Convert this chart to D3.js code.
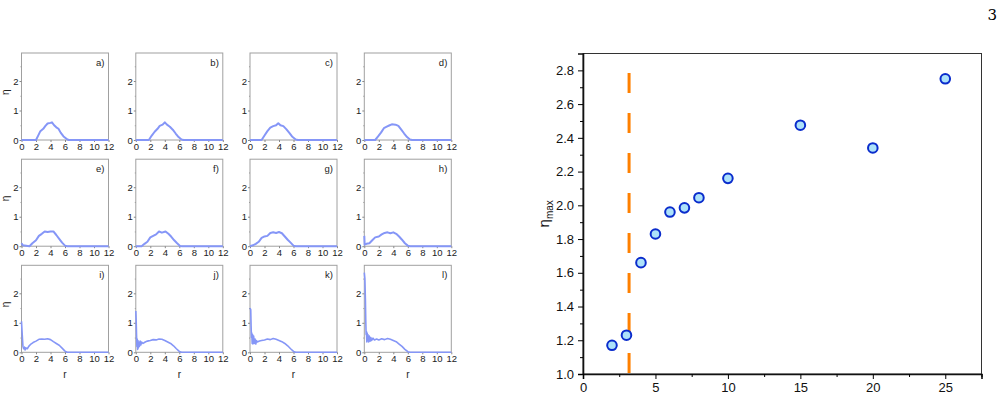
<!DOCTYPE html>
<html>
<head>
<meta charset="utf-8">
<script src="https://cdn.jsdelivr.net/npm/d3@7"></script>
<style>
  body { margin: 0; background: #fff; }
  svg { display: block; }
  text { font-family: "Liberation Sans", Arial, sans-serif; }
  text.pagenum { font-family: "DejaVu Serif", "Liberation Serif", serif; }
</style>
</head>
<body>
<svg id="chart" width="1005" height="402"></svg>
<script>
// ---- small panels: eta(r) profiles ----
var panelLabels = ["a)", "b)", "c)", "d)", "e)", "f)", "g)", "h)", "i)", "j)", "k)", "l)"];

var curveA = [[0,0],[2,0],[2.3,0.15],[2.6,0.3],[3,0.38],[3.3,0.48],[3.6,0.56],[4,0.58],[4.2,0.6],[4.5,0.5],[4.8,0.43],[5.1,0.38],[5.4,0.25],[5.8,0.12],[6.2,0.04],[6.5,0],[12,0]];
var curveB = [[0,0],[1.8,0],[2.2,0.15],[2.6,0.28],[3,0.38],[3.3,0.48],[3.7,0.52],[4,0.6],[4.3,0.52],[4.7,0.45],[5.1,0.35],[5.5,0.22],[5.9,0.1],[6.3,0.02],[6.6,0],[12,0]];
var curveC = [[0,0],[1.6,0],[2,0.15],[2.4,0.3],[2.8,0.42],[3.2,0.47],[3.6,0.5],[3.9,0.57],[4.2,0.5],[4.6,0.47],[5,0.37],[5.4,0.25],[5.8,0.12],[6.3,0.02],[6.6,0],[12,0]];
var curveD = [[0,0],[1.5,0],[1.9,0.12],[2.3,0.25],[2.7,0.4],[3.1,0.45],[3.5,0.5],[3.8,0.53],[4.3,0.52],[4.7,0.48],[5.1,0.35],[5.5,0.22],[5.9,0.1],[6.3,0.02],[6.6,0],[12,0]];
var curveE = [[0,0.1],[0.2,0.03],[1.1,0],[1.5,0.1],[2,0.2],[2.4,0.35],[2.8,0.42],[3.2,0.5],[3.6,0.48],[4,0.5],[4.4,0.5],[4.8,0.38],[5.2,0.25],[5.6,0.12],[6,0.02],[6.3,0],[12,0]];
var curveF = [[0,0],[0.8,0],[1.2,0.08],[1.6,0.15],[2,0.3],[2.4,0.35],[2.8,0.4],[3.2,0.5],[3.6,0.46],[4.1,0.5],[4.5,0.42],[4.9,0.32],[5.3,0.2],[5.7,0.1],[6.1,0.01],[6.4,0],[12,0]];
var curveG = [[0,0],[0.4,0.03],[0.8,0.08],[1.2,0.15],[1.6,0.28],[2,0.33],[2.4,0.35],[2.8,0.45],[3.2,0.47],[3.6,0.45],[4,0.48],[4.4,0.44],[4.8,0.33],[5.2,0.22],[5.6,0.12],[6,0.02],[6.3,0],[12,0]];
var curveH = [[0,0.35],[0.05,0.05],[0.3,0.08],[0.7,0.1],[1.1,0.2],[1.5,0.3],[2,0.33],[2.4,0.4],[2.8,0.45],[3.2,0.47],[3.6,0.44],[4,0.47],[4.4,0.42],[4.8,0.33],[5.2,0.22],[5.6,0.1],[6,0.02],[6.3,0],[12,0]];
var curveI = [[0,1.05],[0.1,0.6],[0.2,0.2],[0.3,0.12],[0.4,0.18],[0.5,0.08],[0.6,0.15],[0.8,0.12],[1,0.2],[1.3,0.28],[1.6,0.33],[2,0.38],[2.4,0.44],[2.8,0.45],[3.2,0.44],[3.6,0.46],[4,0.43],[4.4,0.36],[4.8,0.3],[5.2,0.24],[5.6,0.14],[6,0.04],[6.3,0],[12,0]];
var curveJ = [[0,1.4],[0.05,1.1],[0.1,0.6],[0.15,0.2],[0.2,0.45],[0.25,0.1],[0.3,0.4],[0.35,0.15],[0.4,0.35],[0.5,0.2],[0.6,0.38],[0.7,0.25],[0.8,0.35],[1,0.3],[1.3,0.35],[1.6,0.38],[2,0.4],[2.4,0.43],[2.8,0.42],[3.2,0.45],[3.6,0.44],[4,0.4],[4.4,0.35],[4.8,0.3],[5.2,0.22],[5.6,0.12],[6,0.03],[6.3,0],[12,0]];
var curveK = [[0,1.5],[0.1,1.45],[0.15,0.9],[0.2,0.5],[0.25,0.65],[0.3,0.3],[0.35,0.6],[0.4,0.28],[0.5,0.55],[0.6,0.3],[0.7,0.45],[0.8,0.28],[0.9,0.4],[1,0.35],[1.3,0.38],[1.6,0.4],[2,0.42],[2.4,0.45],[2.8,0.43],[3.2,0.47],[3.6,0.44],[4,0.4],[4.4,0.36],[4.8,0.3],[5.2,0.22],[5.6,0.12],[6,0.03],[6.3,0],[12,0]];
var curveL = [[0,2.7],[0.08,2.5],[0.15,1.8],[0.2,1.1],[0.25,0.6],[0.3,0.7],[0.35,0.35],[0.4,0.65],[0.45,0.4],[0.5,0.6],[0.6,0.35],[0.7,0.55],[0.8,0.38],[0.9,0.5],[1,0.4],[1.2,0.48],[1.4,0.42],[1.7,0.45],[2,0.42],[2.4,0.46],[2.8,0.43],[3.2,0.47],[3.6,0.44],[4,0.4],[4.4,0.36],[4.8,0.28],[5.2,0.2],[5.6,0.1],[6,0.02],[6.3,0],[12,0]];

var curves = [curveA, curveB, curveC, curveD, curveE, curveF, curveG, curveH, curveI, curveJ, curveK, curveL];
var smallXTicks = [0, 2, 4, 6, 8, 10, 12];
var smallYTicks = [0, 1, 2];

// ---- right panel: eta_max vs N ----
var nValues   = [2, 3, 4, 5, 6, 7, 8, 10, 15, 20, 25];
var etaMax    = [1.17, 1.23, 1.66, 1.83, 1.96, 1.985, 2.045, 2.16, 2.475, 2.34, 2.75];
var bigXTicks = [0, 5, 10, 15, 20, 25];
var bigYTicks = [1.0, 1.2, 1.4, 1.6, 1.8, 2.0, 2.2, 2.4, 2.6, 2.8];
var criticalN = 3.18;
var dashRange = [1.0, 2.785];

var svg = d3.select("#chart");

// page number
svg.append("text")
  .attr("class", "pagenum")
  .attr("x", 997).attr("y", 20)
  .attr("text-anchor", "end")
  .style("font-size", "15px")
  .text("3");

// ---------- grid of small panels ----------
var PW = 87, PH = 87;
var colX = [21.5, 135.8, 250, 364.3];
var rowY = [53, 159.2, 265.3];
var lineColor = "#8596f7";
var frameColor = "#a0a0a0";

var sx = d3.scaleLinear().domain([0, 12]).range([0, PW]);
var sy = d3.scaleLinear().domain([0, 2.95]).range([PH, 0]);
var line = d3.line().x(function(d){ return sx(d[0]); }).y(function(d){ return sy(d[1]); });

curves.forEach(function(c, i){
  var col = i % 4, row = Math.floor(i / 4);
  var g = svg.append("g").attr("transform", "translate(" + colX[col] + "," + rowY[row] + ")");

  g.append("rect")
    .attr("width", PW).attr("height", PH)
    .attr("fill", "none").attr("stroke", frameColor).attr("stroke-width", 1);

  // y ticks
  var ya = g.append("g").call(d3.axisLeft(sy).tickValues(smallYTicks).tickSize(2).tickPadding(1).tickFormat(d3.format("d")));
  ya.select(".domain").remove();
  ya.selectAll("line").attr("stroke", "#888");
  ya.selectAll("text").style("font-size", "9.5px").attr("fill", "#222");
  g.append("g").call(d3.axisLeft(sy).tickValues([0.5, 1.5, 2.5]).tickSize(1).tickFormat(""))
    .call(function(a){ a.select(".domain").remove(); a.selectAll("line").attr("stroke", "#999"); });

  // x ticks
  var xa = g.append("g").attr("transform", "translate(0," + PH + ")")
    .call(d3.axisBottom(sx).tickValues(smallXTicks).tickSize(2).tickPadding(1));
  xa.select(".domain").remove();
  xa.selectAll("line").attr("stroke", "#888");
  xa.selectAll("text").style("font-size", "9.5px").attr("fill", "#222");

  g.append("path")
    .datum(c)
    .attr("d", line)
    .attr("fill", "none")
    .attr("stroke", lineColor)
    .attr("stroke-width", i >= 8 ? 1.6 : 2)
    .attr("stroke-linejoin", "round");

  g.append("text")
    .attr("x", PW - 4).attr("y", 13)
    .attr("text-anchor", "end")
    .style("font-size", "9.5px")
    .attr("fill", "#222")
    .text(panelLabels[i]);

  if (col === 0) {
    g.append("text")
      .attr("transform", "translate(-13," + (PH * 0.45) + ") rotate(-90)")
      .attr("text-anchor", "middle")
      .style("font-size", "10px")
      .attr("fill", "#222")
      .text("η");
  }
  if (row === 2) {
    g.append("text")
      .attr("x", PW / 2).attr("y", PH + 26)
      .attr("text-anchor", "middle")
      .style("font-size", "10px")
      .attr("fill", "#222")
      .text("r");
  }
});

// ---------- right scatter chart ----------
var L = 583, T = 53.5, R = 981.5, B = 374;
var bx = d3.scaleLinear().domain([0, 27.5]).range([L, R]);
var by = d3.scaleLinear().domain([1.0, 2.9]).range([B, T]);

// frame
svg.append("rect")
  .attr("x", L).attr("y", T).attr("width", R - L).attr("height", B - T)
  .attr("fill", "none").attr("stroke", "#333").attr("stroke-width", 1);

var yAxis = svg.append("g").attr("transform", "translate(" + L + ",0)")
  .call(d3.axisLeft(by).tickValues(bigYTicks).tickSize(5).tickPadding(4).tickFormat(d3.format(".1f")));
yAxis.select(".domain").attr("stroke-width", 1.6).attr("stroke", "#111");
yAxis.selectAll("text").style("font-size", "13px").attr("fill", "#111");
var yMinor = d3.range(1.1, 2.9, 0.2);
svg.append("g").attr("transform", "translate(" + L + ",0)")
  .call(d3.axisLeft(by).tickValues(yMinor).tickSize(3).tickFormat(""))
  .select(".domain").remove();

var xAxis = svg.append("g").attr("transform", "translate(0," + B + ")")
  .call(d3.axisBottom(bx).tickValues(bigXTicks).tickSize(5).tickPadding(4));
xAxis.select(".domain").attr("stroke-width", 1.6).attr("stroke", "#111");
xAxis.selectAll("text").style("font-size", "13px").attr("fill", "#111");
svg.append("g").attr("transform", "translate(0," + B + ")")
  .call(d3.axisBottom(bx).tickValues([2.5, 7.5, 12.5, 17.5, 22.5, 27.5]).tickSize(3).tickFormat(""))
  .select(".domain").remove();

// y label
var yl = svg.append("text")
  .attr("transform", "translate(549," + by(1.95) + ") rotate(-90)")
  .attr("text-anchor", "middle")
  .style("font-size", "15px")
  .attr("fill", "#111");
yl.append("tspan").text("η");
yl.append("tspan").attr("dy", 4).style("font-size", "10px").text("max");

// dashed critical line
svg.append("line")
  .attr("x1", bx(criticalN)).attr("x2", bx(criticalN))
  .attr("y1", by(dashRange[1])).attr("y2", by(dashRange[0]))
  .attr("stroke", "#ff8000")
  .attr("stroke-width", 3)
  .attr("stroke-dasharray", "20,20");

// points
svg.append("g").selectAll("circle")
  .data(nValues)
  .enter().append("circle")
  .attr("cx", function(d){ return bx(d); })
  .attr("cy", function(d, i){ return by(etaMax[i]); })
  .attr("r", 4.8)
  .attr("fill", "#ade2fa")
  .attr("stroke", "#0a2ccc")
  .attr("stroke-width", 2);
</script>
</body>
</html>
